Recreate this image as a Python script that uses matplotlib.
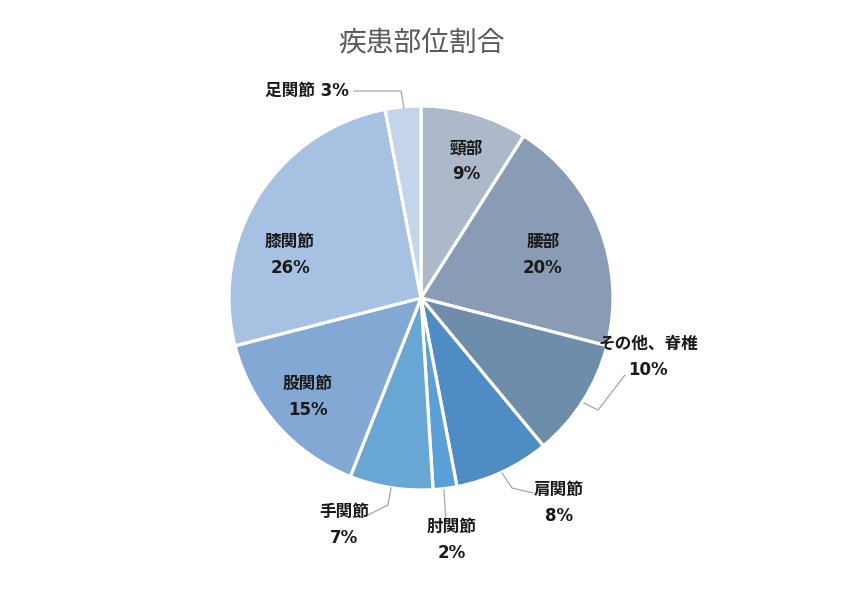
import numpy as np
import matplotlib
matplotlib.use("Agg")
import matplotlib.pyplot as plt

plt.rcParams['font.family'] = ['Noto Sans CJK JP', 'DejaVu Sans']

title = "疾患部位割合"
categories = ["頸部", "腰部", "その他、脊椎", "肩関節", "肘関節", "手関節", "股関節", "膝関節", "足関節"]
values = [9, 20, 10, 8, 2, 7, 15, 26, 3]
colors = ["#ADB9CA", "#8A9BB6", "#6E8DAA", "#4E8CC3", "#5A9FD6", "#68A7D3",
          "#84A8D4", "#A7C1E2", "#C4D5EB"]

W, H = 842, 595
CX, CY, R = 421, 298, 192

fig = plt.figure(figsize=(W / 100, H / 100), dpi=100)
ax = fig.add_axes([0, 0, 1, 1])

wedges, _ = ax.pie(values, colors=colors, startangle=90, counterclock=False,
                   radius=1.0, center=(0, 0),
                   wedgeprops=dict(edgecolor="white", linewidth=2.3))
ax.set_xlim(-CX / R, (W - CX) / R)
ax.set_ylim(-(H - CY) / R, CY / R)
ax.set_aspect('equal')
ax.axis('off')


def d(x, y):
    return ((x - CX) / R, (CY - y) / R)


label_fam = ['DejaVu Sans', 'Noto Sans CJK JP']

# label layout (pixel positions)
label_pos = {
    0: (466, 161), 1: (543, 255), 2: (648, 357), 3: (559, 503), 4: (452, 540),
    5: (344, 525), 6: (308, 397), 7: (290, 255), 8: (307, 91),
}
for i, (cat, v) in enumerate(zip(categories, values)):
    x, y = d(*label_pos[i])
    if i == 8:
        txt = f"{cat} {v}%"
    else:
        txt = f"{cat}\n{v}%"
    ax.text(x, y, txt, ha='center', va='center', fontsize=12, fontweight='bold',
            color='#1a1a1a', linespacing=1.55, family=label_fam)

# leader lines (pixel polylines from label to wedge edge)
leaders = {
    2: [(625, 375), (598, 410), (584, 403)],
    3: [(533, 493), (512, 488), (502, 473)],
    4: [(446, 521), (444, 490)],
    5: [(368, 515), (388, 505), (391, 488)],
    8: [(354, 91), (401, 91), (404, 108)],
}
for i, pts in leaders.items():
    xs, ys = zip(*[d(px, py) for px, py in pts])
    ax.plot(xs, ys, color='#a6a6a6', linewidth=0.9)

fig.text(0.5, 1 - 43 / H, title, ha='center', va='center', fontsize=20, color='#595959')

fig.savefig("out.png", dpi=100, facecolor='white')
